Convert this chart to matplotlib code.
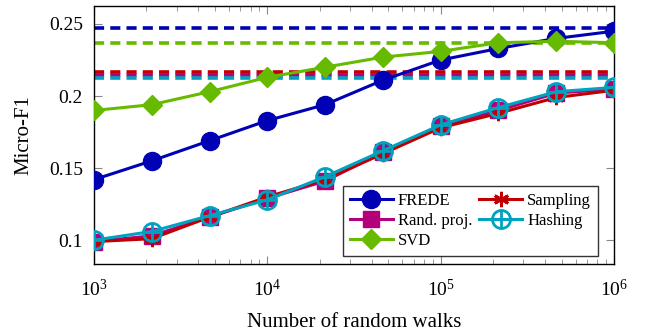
import numpy as np
import matplotlib
matplotlib.use("Agg")
import matplotlib.pyplot as plt
from matplotlib.path import Path

plt.rcParams['font.family'] = ['Liberation Serif', 'DejaVu Serif']
plt.rcParams['mathtext.fontset'] = 'stix'

# data
walks = [1e3, 2.15e3, 4.64e3, 1e4, 2.15e4, 4.64e4, 1e5, 2.15e5, 4.64e5, 1e6]
frede = [0.142, 0.155, 0.169, 0.183, 0.194, 0.211, 0.225, 0.233, 0.240, 0.245]
rand_proj = [0.099, 0.103, 0.116, 0.129, 0.141, 0.161, 0.179, 0.190, 0.202, 0.205]
svd = [0.190, 0.194, 0.203, 0.213, 0.220, 0.227, 0.231, 0.237, 0.238, 0.237]
sampling = [0.099, 0.101, 0.116, 0.130, 0.142, 0.160, 0.178, 0.188, 0.199, 0.204]
hashing = [0.100, 0.106, 0.117, 0.128, 0.144, 0.162, 0.180, 0.192, 0.203, 0.206]

# full-data reference levels (dashed)
ref_levels = {
    'FREDE': 0.247,
    'SVD': 0.237,
    'Sampling': 0.217,
    'Rand. proj.': 0.2148,
    'Hashing': 0.2125,
}

colors = {
    'FREDE': '#0000b4',
    'Rand. proj.': '#b4007a',
    'SVD': '#66bb00',
    'Sampling': '#c00000',
    'Hashing': '#00a3bf',
}

# circle with a plus inside, like pgfplots "oplus"
circ = Path.unit_circle()
cross = Path([(-1, 0), (1, 0), (0, -1), (0, 1)],
             [Path.MOVETO, Path.LINETO, Path.MOVETO, Path.LINETO])
oplus = Path.make_compound_path(circ, cross)

fig = plt.figure(figsize=(6.46, 3.32), dpi=100)
ax = fig.add_axes([0.1455, 0.205, 0.805, 0.777])

lw = 2.2
for name, lvl in ref_levels.items():
    ax.plot([walks[0], walks[-1]], [lvl, lvl], color=colors[name], lw=2.6,
            ls=(0, (2.8, 1.7)), zorder=1)

ax.plot(walks, frede, color=colors['FREDE'], lw=lw, marker='o', ms=13,
        label='FREDE', zorder=3)
ax.plot(walks, rand_proj, color=colors['Rand. proj.'], lw=lw, marker='s', ms=12,
        label='Rand. proj.', zorder=3)
ax.plot(walks, svd, color=colors['SVD'], lw=lw, marker='D', ms=10,
        label='SVD', zorder=3)
ax.plot(walks, sampling, color=colors['Sampling'], lw=lw, marker=(6, 2, 0), ms=11,
        mew=2, label='Sampling', zorder=3)
ax.plot(walks, hashing, color=colors['Hashing'], lw=lw, marker=oplus, ms=13,
        mew=2, mfc='none', label='Hashing', zorder=4)

ax.set_xscale('log')
ax.set_xlim(1e3, 1e6)
ax.set_ylim(0.0835, 0.2625)
ax.set_yticks([0.1, 0.15, 0.2, 0.25])
ax.set_yticklabels(['0.1', '0.15', '0.2', '0.25'])
ax.tick_params(which='both', direction='in', top=True, right=True,
               labelsize=14, color='#888888')
ax.tick_params(which='major', length=6, pad=8)
ax.tick_params(axis='x', which='major', pad=11)
ax.tick_params(which='minor', length=3.5)
for s in ax.spines.values():
    s.set_linewidth(1.0)

ax.set_xlabel('Number of random walks', fontsize=15, labelpad=9)
ax.set_ylabel('Micro-F1', fontsize=15, labelpad=11)

leg = ax.legend(ncol=2, loc='lower right', bbox_to_anchor=(0.969, 0.031),
                borderaxespad=0,
                fontsize=12, frameon=True, fancybox=False, edgecolor='black',
                handlelength=2.6, columnspacing=0.4, handletextpad=0.3,
                labelspacing=0.25, borderpad=0.4)
leg.get_frame().set_linewidth(1.0)

fig.savefig('out.png', dpi=100)
